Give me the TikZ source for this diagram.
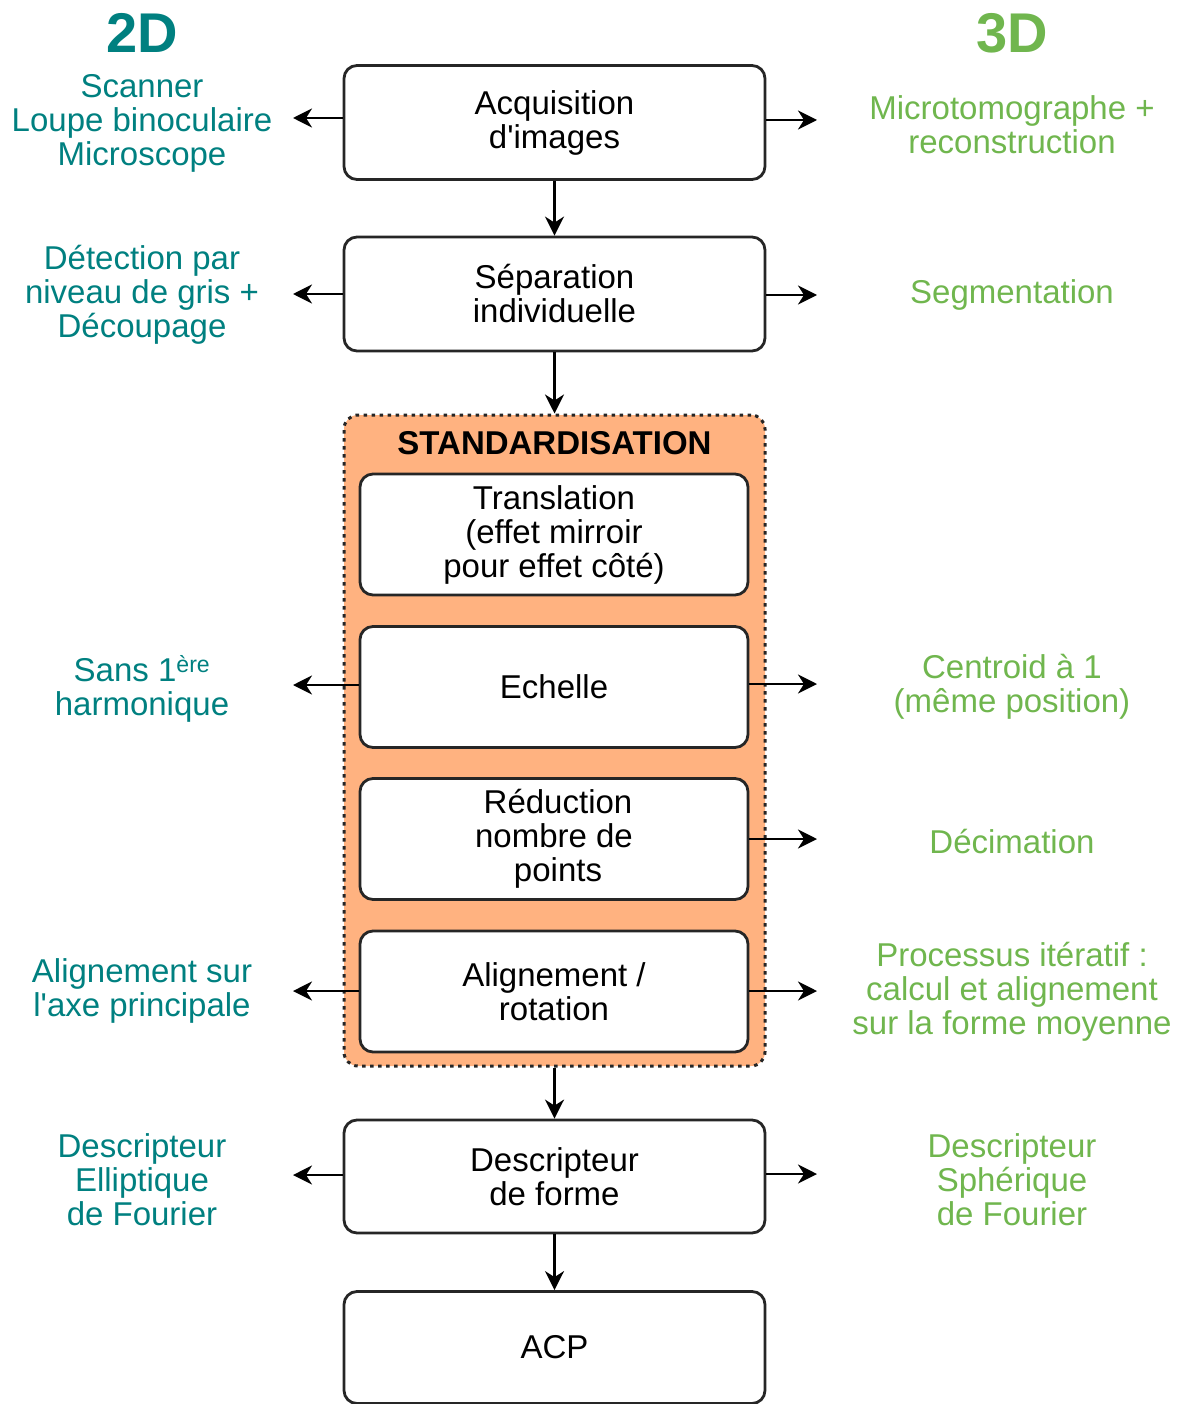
\documentclass[tikz,border=0pt]{standalone}
\usepackage{fontspec}
\setmainfont{Liberation Sans}
\usetikzlibrary{arrows.meta}
\definecolor{teal2d}{RGB}{0,128,128}
\definecolor{green3d}{RGB}{112,182,78}
\definecolor{stdfill}{RGB}{255,178,128}
\begin{document}
\begin{tikzpicture}[x=1pt,y=-1pt,
  every node/.style={font=\fontsize{33}{34}\selectfont, inner sep=0pt, align=center},
  stepbox/.style={draw=black!85, line width=2.8pt, rounded corners=13pt, fill=white,
    minimum width=421pt, minimum height=114pt},
  innerbox/.style={stepbox, minimum width=388pt, minimum height=121pt},
  groupbox/.style={draw=black!85, line width=3pt, dash pattern=on 3.5pt off 4.5pt,
    rounded corners=14pt, fill=stdfill, minimum width=421pt, minimum height=651pt},
  flow/.style={line width=2.6pt, -{Stealth[length=19pt,width=19pt,inset=6pt]}},
  lefttxt/.style={text=teal2d},
  righttxt/.style={text=green3d},
  head/.style={font=\fontsize{56}{60}\selectfont\bfseries}
]
\useasboundingbox (0,0) rectangle (1183,1404);

% column headings
\node[head, text=teal2d] (h2d) at (142,33) {2D};
\node[head, text=green3d] (h3d) at (1012,33) {3D};

% main chain
\node[stepbox] (acq) at (554.5,122.5) {Acquisition\\d\textquotesingle images};
\node[stepbox] (sep) at (554.5,294) {Séparation\\individuelle};
\node[groupbox] (std) at (554.5,740.5) {};
\node[font=\fontsize{33}{34}\selectfont\bfseries] (stdt) at (554.5,443) {STANDARDISATION};
\node[innerbox] (tra) at (554,534.5) {Translation\\(effet mirroir\\pour effet côté)};
\node[innerbox] (ech) at (554,687) {Echelle};
\node[innerbox] (red) at (554,839) {\hspace*{8pt}Réduction\\nombre de\\\hspace*{8pt}points};
\node[innerbox] (ali) at (554,991.5) {Alignement /\\rotation};
\node[stepbox, minimum height=113pt] (des) at (554.5,1176.5) {Descripteur\\de forme};
\node[stepbox, minimum height=112pt] (acp) at (554.5,1347.5) {ACP};

\draw[flow] (acq) -- (sep);
\draw[flow] (sep) -- (std);
\draw[flow] (std) -- (des);
\draw[flow] (des) -- (acp);

% 2D side
\node[lefttxt] (l1) at (142,123) {Scanner\\Loupe binoculaire\\Microscope};
\node[lefttxt] (l2) at (142,295) {Détection par\\niveau de gris +\\Découpage};
\node[lefttxt] (l3) at (142,689) {Sans 1\textsuperscript{ère}\\harmonique};
\node[lefttxt] (l4) at (142,991) {Alignement sur\\l\textquotesingle axe principale};
\node[lefttxt] (l5) at (142,1180) {Descripteur\\Elliptique\\de Fourier};

\coordinate (la1) at (293,118);
\coordinate (la2) at (293,294);
\coordinate (la3) at (293,685);
\coordinate (la4) at (293,991);
\coordinate (la5) at (293,1175);
\draw[flow] (acq.west |- la1) -- (la1);
\draw[flow] (sep.west |- la2) -- (la2);
\draw[flow] (ech.west |- la3) -- (la3);
\draw[flow] (ali.west |- la4) -- (la4);
\draw[flow] (des.west |- la5) -- (la5);

% 3D side
\node[righttxt] (r1) at (1012,125) {Microtomographe +\\reconstruction};
\node[righttxt] (r2) at (1012,295) {Segmentation};
\node[righttxt] (r3) at (1012,687) {Centroid à 1\\(même position)};
\node[righttxt] (r4) at (1012,842) {Décimation};
\node[righttxt] (r5) at (1012,992) {Processus itératif :\\calcul et alignement\\sur la forme moyenne};
\node[righttxt] (r6) at (1012,1180) {Descripteur\\Sphérique\\de Fourier};

\coordinate (ra1) at (817,120);
\coordinate (ra2) at (817,295);
\coordinate (ra3) at (817,684);
\coordinate (ra4) at (817,839);
\coordinate (ra5) at (817,991);
\coordinate (ra6) at (817,1174);
\draw[flow] (acq.east |- ra1) -- (ra1);
\draw[flow] (sep.east |- ra2) -- (ra2);
\draw[flow] (ech.east |- ra3) -- (ra3);
\draw[flow] (red.east |- ra4) -- (ra4);
\draw[flow] (ali.east |- ra5) -- (ra5);
\draw[flow] (des.east |- ra6) -- (ra6);
\end{tikzpicture}
\end{document}
